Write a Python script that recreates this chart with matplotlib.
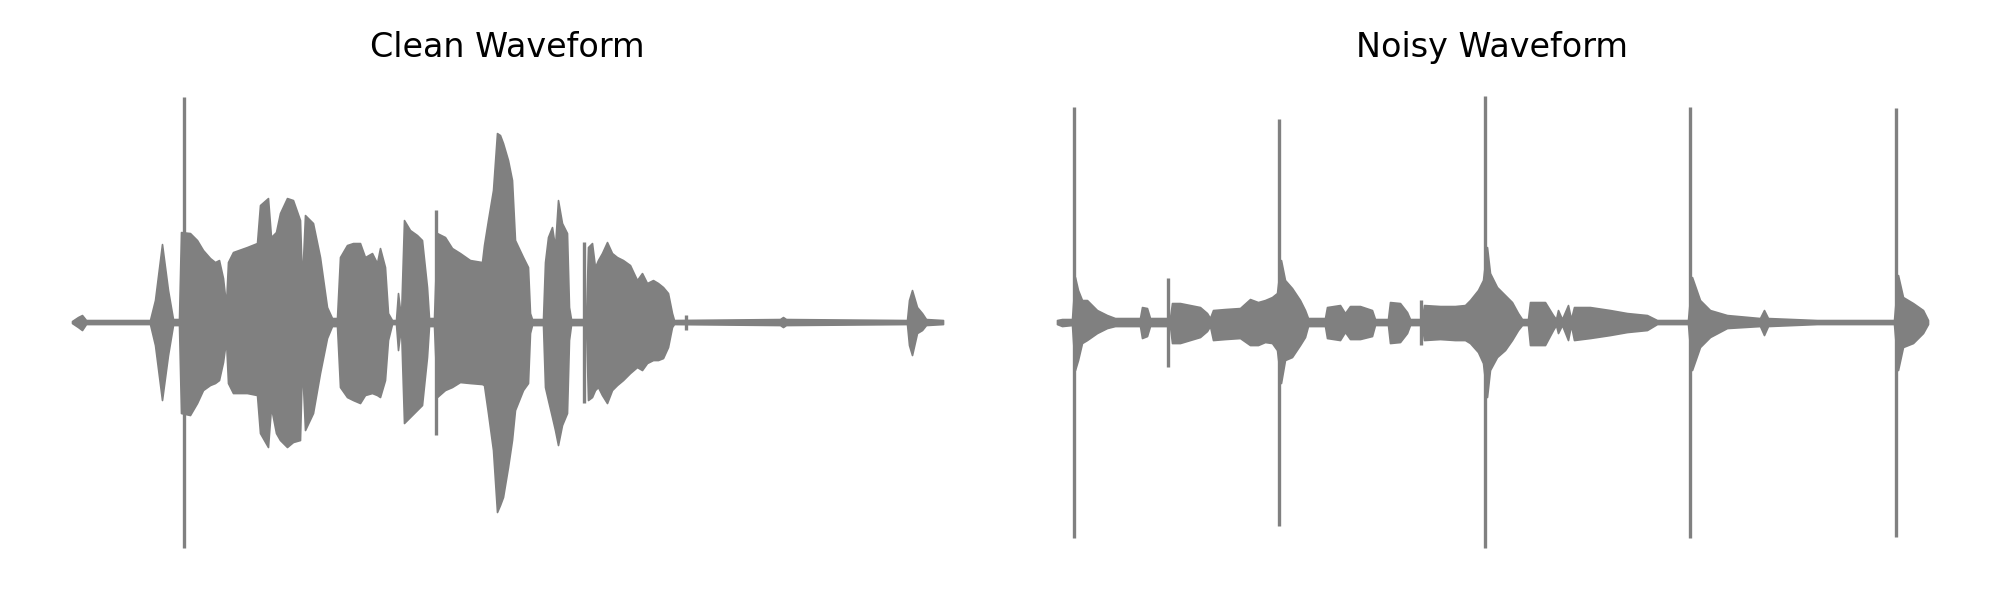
import numpy as np
import matplotlib.pyplot as plt

# Clean waveform: envelope (seconds, normalised amplitude)
clean_t = [0.000, 0.030, 0.050, 0.070, 0.390, 0.415, 0.450, 0.480, 0.505, 0.535,
           0.545, 0.590, 0.625, 0.655, 0.690, 0.715, 0.735, 0.755, 0.770, 0.780,
           0.805, 0.875, 0.925, 0.940, 0.980, 0.995, 1.020, 1.040, 1.075, 1.105,
           1.140, 1.150, 1.165, 1.205, 1.240, 1.275, 1.300, 1.325, 1.340, 1.375,
           1.405, 1.440, 1.465, 1.500, 1.525, 1.540, 1.565, 1.580, 1.600, 1.620,
           1.630, 1.645, 1.660, 1.690, 1.725, 1.750, 1.775, 1.785, 1.810, 1.825,
           1.865, 1.900, 1.940, 1.990, 2.050, 2.060, 2.080, 2.105, 2.125, 2.140,
           2.155, 2.180, 2.200, 2.215, 2.255, 2.280, 2.290, 2.300, 2.355, 2.365,
           2.380, 2.400, 2.415, 2.430, 2.450, 2.475, 2.485, 2.495, 2.550, 2.570,
           2.580, 2.600, 2.615, 2.630, 2.650, 2.675, 2.700, 2.725, 2.755, 2.790,
           2.825, 2.850, 2.875, 2.905, 2.930, 2.955, 2.980, 3.000, 3.010, 3.540,
           3.555, 3.570, 4.175, 4.185, 4.200, 4.225, 4.250, 4.270, 4.355]
clean_upper = [0.004, 0.020, 0.028, 0.008, 0.008, 0.088, 0.312, 0.128, 0.012, 0.012,
               0.360, 0.356, 0.328, 0.288, 0.256, 0.240, 0.248, 0.176, 0.068, 0.240,
               0.280, 0.300, 0.316, 0.468, 0.496, 0.340, 0.360, 0.436, 0.496, 0.488,
               0.408, 0.156, 0.428, 0.396, 0.260, 0.060, 0.016, 0.016, 0.260, 0.308,
               0.316, 0.316, 0.260, 0.276, 0.236, 0.296, 0.220, 0.036, 0.008, 0.008,
               0.116, 0.016, 0.408, 0.368, 0.348, 0.328, 0.140, 0.016, 0.016, 0.356,
               0.340, 0.296, 0.276, 0.248, 0.240, 0.308, 0.408, 0.528, 0.756, 0.748,
               0.716, 0.648, 0.568, 0.328, 0.260, 0.220, 0.036, 0.012, 0.012, 0.240,
               0.340, 0.380, 0.300, 0.488, 0.396, 0.356, 0.060, 0.012, 0.012, 0.012,
               0.300, 0.316, 0.220, 0.248, 0.276, 0.320, 0.276, 0.260, 0.248, 0.228,
               0.168, 0.196, 0.156, 0.168, 0.156, 0.140, 0.116, 0.036, 0.008, 0.012,
               0.020, 0.012, 0.008, 0.088, 0.128, 0.060, 0.036, 0.012, 0.008]
clean_lower = [-0.004, -0.020, -0.032, -0.008, -0.008, -0.092, -0.312, -0.132, -0.012, -0.012,
               -0.364, -0.372, -0.324, -0.272, -0.252, -0.244, -0.232, -0.160, -0.072, -0.244,
               -0.284, -0.284, -0.292, -0.444, -0.500, -0.340, -0.444, -0.472, -0.500, -0.480,
               -0.472, -0.164, -0.432, -0.364, -0.204, -0.064, -0.016, -0.016, -0.260, -0.300,
               -0.312, -0.324, -0.292, -0.284, -0.292, -0.300, -0.232, -0.072, -0.008, -0.008,
               -0.112, -0.016, -0.404, -0.380, -0.352, -0.332, -0.140, -0.016, -0.016, -0.300,
               -0.272, -0.260, -0.240, -0.244, -0.248, -0.252, -0.364, -0.512, -0.760, -0.732,
               -0.700, -0.580, -0.472, -0.352, -0.272, -0.244, -0.044, -0.012, -0.012, -0.260,
               -0.312, -0.380, -0.432, -0.492, -0.412, -0.364, -0.072, -0.012, -0.012, -0.012,
               -0.312, -0.300, -0.272, -0.260, -0.292, -0.324, -0.272, -0.252, -0.232, -0.204,
               -0.180, -0.192, -0.164, -0.152, -0.152, -0.144, -0.100, -0.020, -0.008, -0.012,
               -0.020, -0.012, -0.008, -0.092, -0.132, -0.044, -0.032, -0.012, -0.008]
# single-sample clicks in the clean take
clean_spike_t = [0.5575, 1.820, 2.560, 3.070]
clean_spike_top = [0.900, 0.448, 0.320, 0.028]
clean_spike_bottom = [-0.904, -0.452, -0.324, -0.032]

# Noisy waveform
noisy_t = [0.000, 0.025, 0.075, 0.090, 0.105, 0.125, 0.150, 0.200, 0.250, 0.290,
           0.415, 0.425, 0.450, 0.465, 0.565, 0.575, 0.615, 0.665, 0.715, 0.750,
           0.765, 0.780, 0.840, 0.915, 0.965, 1.005, 1.040, 1.075, 1.100, 1.120,
           1.140, 1.175, 1.215, 1.240, 1.255, 1.340, 1.350, 1.415, 1.440, 1.465,
           1.515, 1.575, 1.590, 1.655, 1.665, 1.715, 1.750, 1.765, 1.825, 1.835,
           1.915, 1.990, 2.040, 2.065, 2.105, 2.130, 2.150, 2.165, 2.200, 2.240,
           2.275, 2.305, 2.325, 2.355, 2.365, 2.440, 2.480, 2.495, 2.505, 2.525,
           2.555, 2.570, 2.585, 2.665, 2.765, 2.850, 2.950, 3.000, 3.155, 3.175,
           3.215, 3.265, 3.350, 3.515, 3.535, 3.555, 3.800, 4.185, 4.205, 4.230,
           4.280, 4.330, 4.355]
noisy_upper = [0.008, 0.012, 0.012, 0.180, 0.128, 0.088, 0.088, 0.048, 0.028, 0.016,
               0.016, 0.060, 0.056, 0.016, 0.016, 0.076, 0.076, 0.068, 0.060, 0.036,
               0.016, 0.048, 0.052, 0.056, 0.092, 0.080, 0.088, 0.100, 0.116, 0.248,
               0.168, 0.136, 0.088, 0.048, 0.016, 0.016, 0.060, 0.068, 0.036, 0.064,
               0.064, 0.048, 0.012, 0.012, 0.080, 0.076, 0.040, 0.012, 0.012, 0.068,
               0.064, 0.064, 0.068, 0.088, 0.128, 0.168, 0.300, 0.196, 0.140, 0.108,
               0.080, 0.036, 0.012, 0.012, 0.080, 0.080, 0.028, 0.012, 0.048, 0.012,
               0.068, 0.012, 0.060, 0.060, 0.048, 0.036, 0.028, 0.008, 0.008, 0.180,
               0.088, 0.048, 0.028, 0.016, 0.048, 0.016, 0.008, 0.008, 0.188, 0.100,
               0.076, 0.048, 0.008]
noisy_lower = [-0.008, -0.016, -0.012, -0.192, -0.152, -0.084, -0.072, -0.044, -0.024, -0.016,
               -0.016, -0.064, -0.056, -0.016, -0.016, -0.084, -0.084, -0.072, -0.060, -0.036,
               -0.016, -0.072, -0.068, -0.064, -0.092, -0.092, -0.080, -0.084, -0.112, -0.244,
               -0.152, -0.140, -0.092, -0.060, -0.016, -0.016, -0.064, -0.072, -0.040, -0.068,
               -0.068, -0.056, -0.012, -0.012, -0.084, -0.080, -0.044, -0.012, -0.012, -0.072,
               -0.068, -0.072, -0.072, -0.084, -0.120, -0.164, -0.300, -0.192, -0.140, -0.112,
               -0.072, -0.032, -0.012, -0.012, -0.092, -0.092, -0.032, -0.012, -0.044, -0.012,
               -0.072, -0.012, -0.072, -0.064, -0.052, -0.040, -0.032, -0.008, -0.008, -0.192,
               -0.100, -0.060, -0.024, -0.016, -0.052, -0.016, -0.008, -0.008, -0.192, -0.100,
               -0.084, -0.044, -0.008]
# injected clicks
noisy_spike_t = [0.087, 0.555, 1.110, 1.820, 2.140, 3.165, 4.195]
noisy_spike_top = [0.860, 0.176, 0.812, 0.088, 0.904, 0.860, 0.856]
noisy_spike_bottom = [-0.864, -0.180, -0.816, -0.092, -0.904, -0.864, -0.860]

WAVE = "gray"


def draw_wave(ax, t, upper, lower, st, stop, sbot, title):
    ax.fill_between(t, lower, upper, color=WAVE, linewidth=0.6)
    ax.vlines(st, sbot, stop, color=WAVE, linewidth=1.2, capstyle="butt")
    ax.set_xlim(-0.22, 4.575)
    ax.set_ylim(-0.95, 0.95)
    ax.set_title(title, fontsize=12, pad=10)
    ax.axis("off")


fig, axes = plt.subplots(1, 2, figsize=(10, 3), dpi=200)
fig.subplots_adjust(left=0.014, right=0.986, bottom=0.0675, top=0.859, wspace=0.0271)

draw_wave(axes[0], clean_t, clean_upper, clean_lower,
          clean_spike_t, clean_spike_top, clean_spike_bottom, "Clean Waveform")
draw_wave(axes[1], noisy_t, noisy_upper, noisy_lower,
          noisy_spike_t, noisy_spike_top, noisy_spike_bottom, "Noisy Waveform")

fig.savefig("out.png", dpi=200)
